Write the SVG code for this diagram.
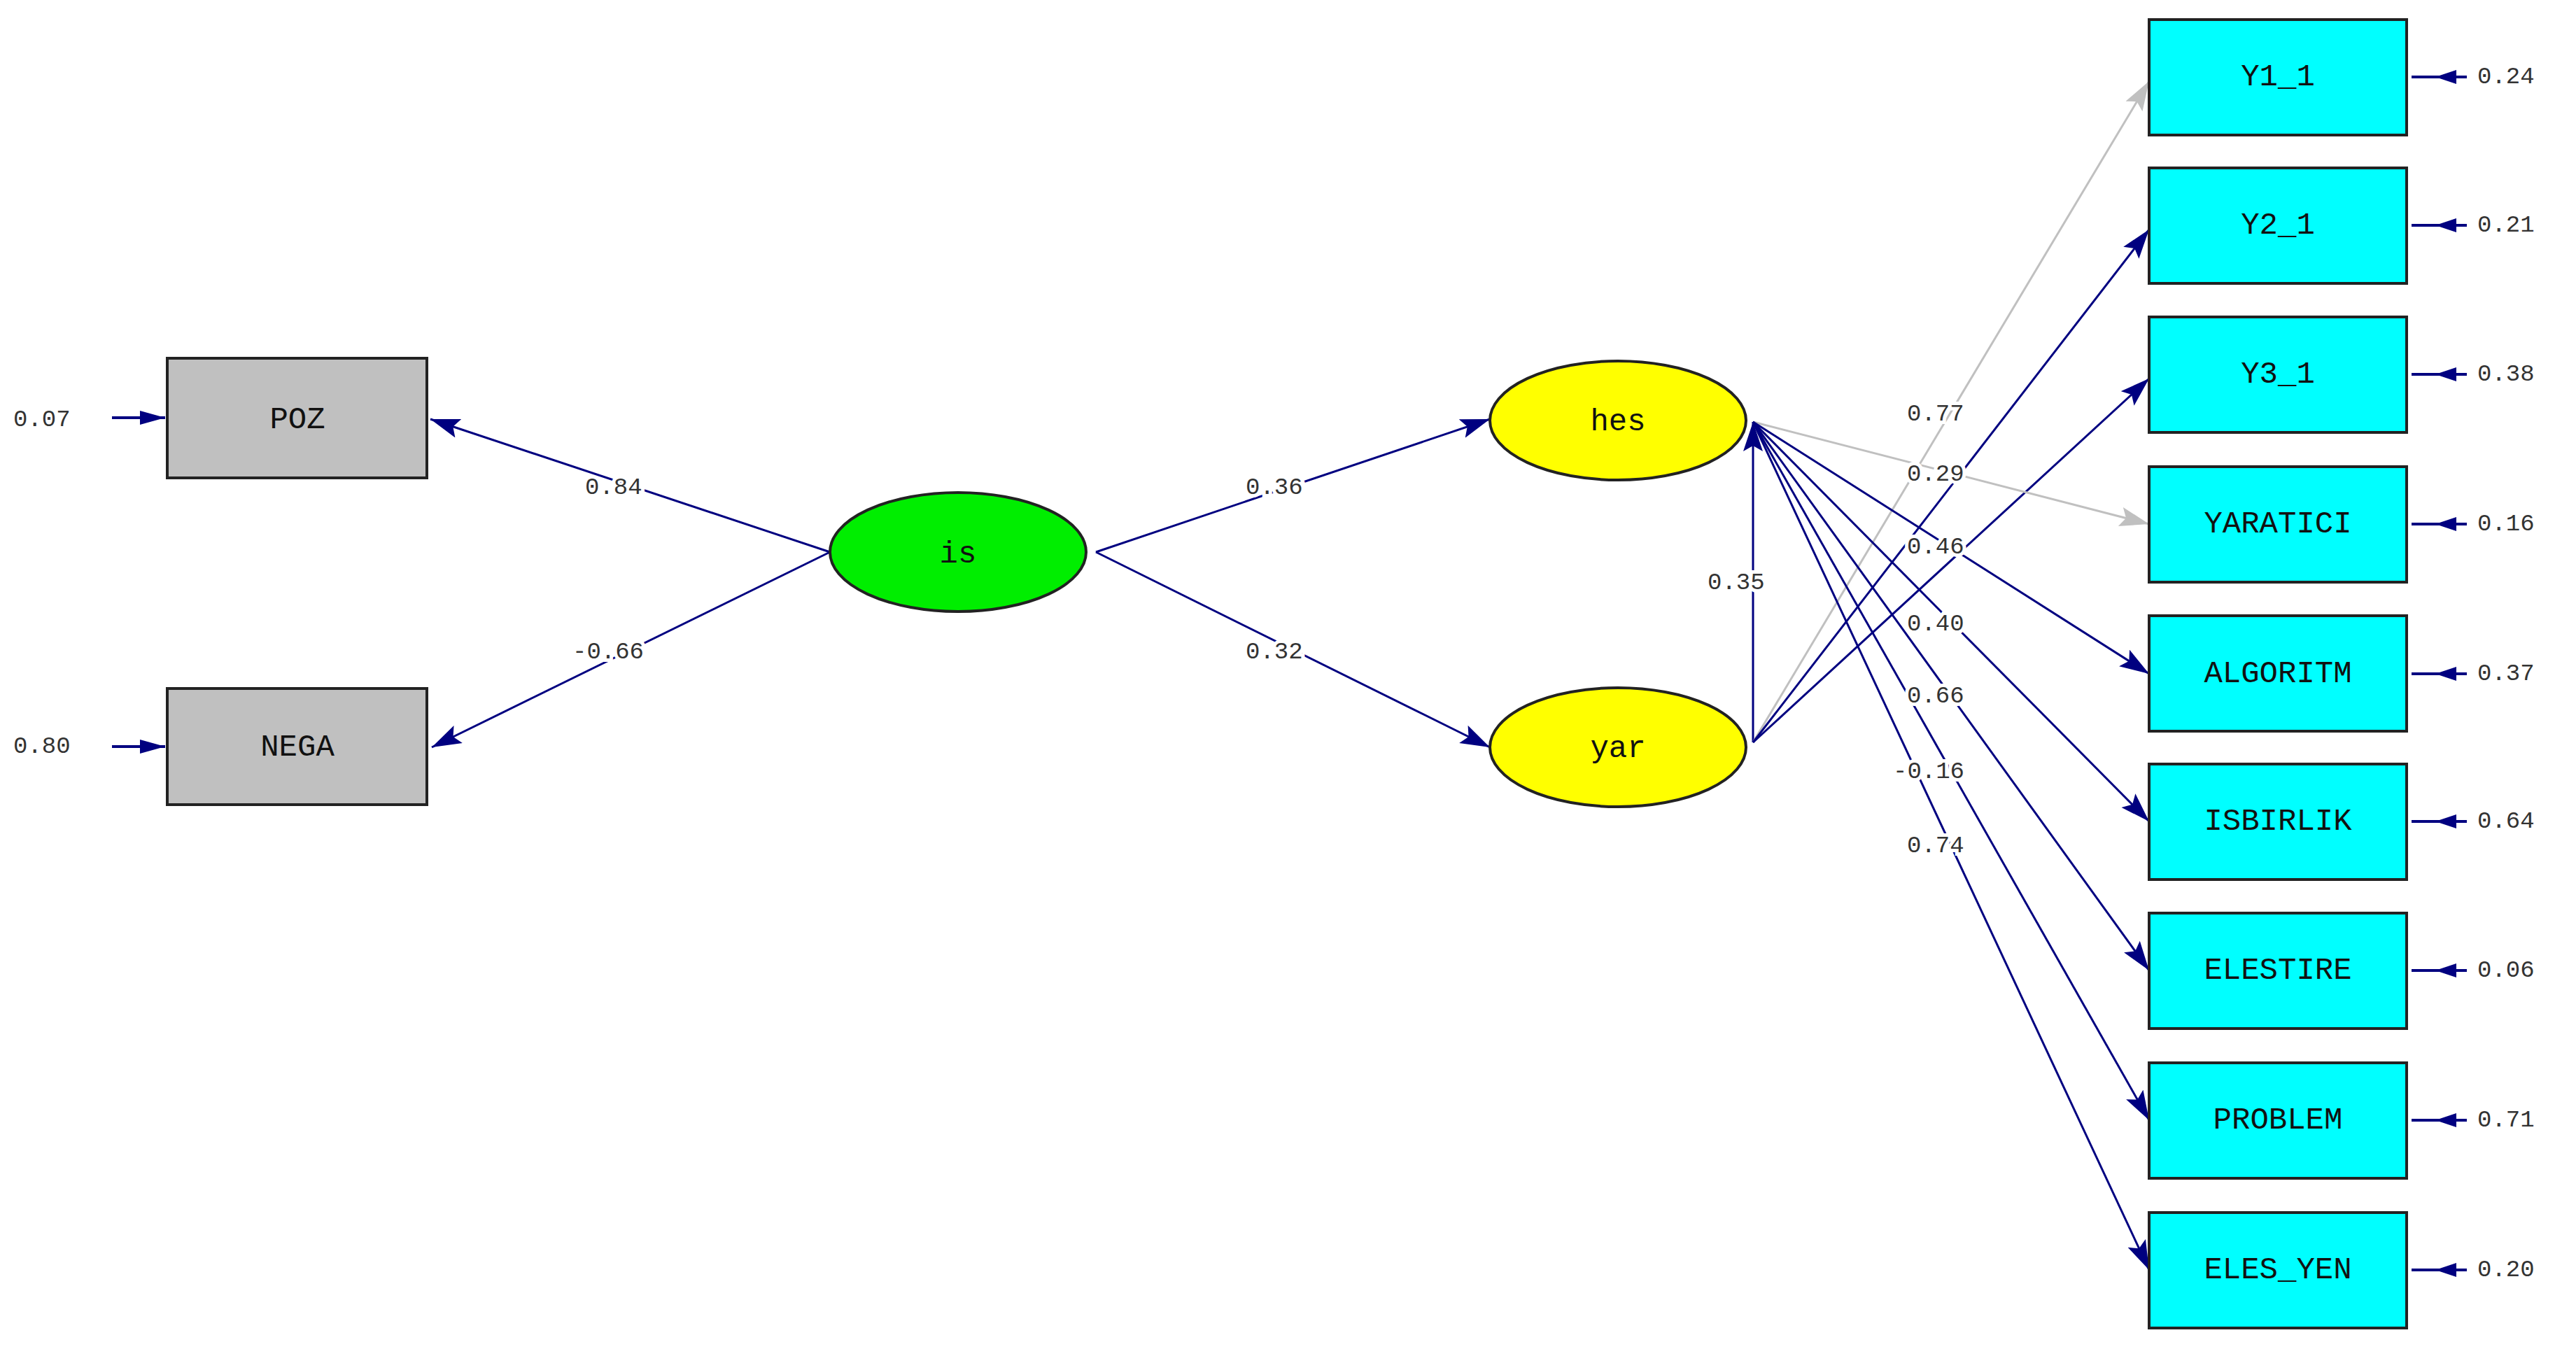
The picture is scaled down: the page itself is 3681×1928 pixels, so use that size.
<svg xmlns="http://www.w3.org/2000/svg" width="3681" height="1928" viewBox="0 0 3681 1928">
<style>
.n{stroke:#222;stroke-width:4}
.t{font-family:"Liberation Mono",monospace;font-size:44px;fill:#111;text-anchor:middle;dominant-baseline:central}
.v{font-family:"Liberation Mono",monospace;font-size:34px;fill:#333;dominant-baseline:central;paint-order:stroke;stroke:#fff;stroke-width:10px}
.c{stroke:#000080;stroke-width:3;fill:none;marker-end:url(#a)}
.g{stroke:#c0c0c0;stroke-width:3;fill:none;marker-end:url(#ag)}
.e{stroke:#000080;stroke-width:4;fill:none}
</style>
<defs>
<marker id="a" markerUnits="userSpaceOnUse" markerWidth="44" markerHeight="30" refX="42" refY="14" orient="auto"><path d="M0,0 L42,14 L0,28 L8,14 Z" fill="#000080"/></marker>
<marker id="ag" markerUnits="userSpaceOnUse" markerWidth="44" markerHeight="30" refX="42" refY="14" orient="auto"><path d="M0,0 L42,14 L0,28 L8,14 Z" fill="#c0c0c0"/></marker>
</defs>
<rect width="3681" height="1928" fill="#fff"/>
<g id="connectors">
<line class="c" x1="1186" y1="789" x2="615" y2="599"/>
<line class="c" x1="1186" y1="789" x2="617" y2="1068"/>
<line class="c" x1="1566" y1="789" x2="2129" y2="599"/>
<line class="c" x1="1566" y1="789" x2="2129" y2="1068"/>
<line class="c" x1="2505" y1="1061" x2="2505" y2="603"/>
<line class="g" x1="2505" y1="1061" x2="3071" y2="116"/>
<line class="c" x1="2505" y1="1061" x2="3071" y2="328"/>
<line class="c" x1="2505" y1="1061" x2="3071" y2="541"/>
<line class="g" x1="2505" y1="603" x2="3071" y2="749"/>
<line class="c" x1="2505" y1="603" x2="3071" y2="963"/>
<line class="c" x1="2505" y1="603" x2="3071" y2="1174"/>
<line class="c" x1="2505" y1="603" x2="3071" y2="1387"/>
<line class="c" x1="2505" y1="603" x2="3071" y2="1601"/>
<line class="c" x1="2505" y1="603" x2="3071" y2="1815"/>
<g id="errors">
<line class="e" x1="160" y1="597" x2="236" y2="597"/><path d="M200,587 L236,597 L200,607Z" fill="#000080"/>
<line class="e" x1="160" y1="1067" x2="236" y2="1067"/><path d="M200,1057 L236,1067 L200,1077Z" fill="#000080"/>
<g fill="#000080">
<line class="e" x1="3446" y1="110" x2="3525" y2="110"/><path d="M3510,100 L3480,110 L3510,120Z"/>
<line class="e" x1="3446" y1="322" x2="3525" y2="322"/><path d="M3510,312 L3480,322 L3510,332Z"/>
<line class="e" x1="3446" y1="535" x2="3525" y2="535"/><path d="M3510,525 L3480,535 L3510,545Z"/>
<line class="e" x1="3446" y1="749" x2="3525" y2="749"/><path d="M3510,739 L3480,749 L3510,759Z"/>
<line class="e" x1="3446" y1="963" x2="3525" y2="963"/><path d="M3510,953 L3480,963 L3510,973Z"/>
<line class="e" x1="3446" y1="1174" x2="3525" y2="1174"/><path d="M3510,1164 L3480,1174 L3510,1184Z"/>
<line class="e" x1="3446" y1="1387" x2="3525" y2="1387"/><path d="M3510,1377 L3480,1387 L3510,1397Z"/>
<line class="e" x1="3446" y1="1601" x2="3525" y2="1601"/><path d="M3510,1591 L3480,1601 L3510,1611Z"/>
<line class="e" x1="3446" y1="1815" x2="3525" y2="1815"/><path d="M3510,1805 L3480,1815 L3510,1825Z"/>
</g>
</g>
<g id="labels">
<text class="v" x="836" y="697">0.84</text>
<text class="v" x="818" y="932">-0.66</text>
<text class="v" x="1780" y="697">0.36</text>
<text class="v" x="1780" y="932">0.32</text>
<text class="v" x="2440" y="833">0.35</text>
<text class="v" x="2725" y="592">0.77</text>
<text class="v" x="2725" y="678">0.29</text>
<text class="v" x="2725" y="782">0.46</text>
<text class="v" x="2725" y="892">0.40</text>
<text class="v" x="2725" y="995">0.66</text>
<text class="v" x="2705" y="1103">-0.16</text>
<text class="v" x="2725" y="1209">0.74</text>
<text class="v" x="19" y="600">0.07</text>
<text class="v" x="19" y="1067">0.80</text>
<text class="v" x="3540" y="110">0.24</text>
<text class="v" x="3540" y="322">0.21</text>
<text class="v" x="3540" y="535">0.38</text>
<text class="v" x="3540" y="749">0.16</text>
<text class="v" x="3540" y="963">0.37</text>
<text class="v" x="3540" y="1174">0.64</text>
<text class="v" x="3540" y="1387">0.06</text>
<text class="v" x="3540" y="1601">0.71</text>
<text class="v" x="3540" y="1815">0.20</text>
</g>
</g>
<g id="POZ"><rect class="n" x="239" y="512" width="371" height="171" fill="#c0c0c0"/><text class="t" x="425" y="600">POZ</text></g>
<g id="NEGA"><rect class="n" x="239" y="984" width="371" height="166" fill="#c0c0c0"/><text class="t" x="425" y="1068">NEGA</text></g>
<g id="is"><ellipse class="n" cx="1369" cy="789" rx="183" ry="85" fill="#00ee00"/><text class="t" x="1369" y="792">is</text></g>
<g id="hes"><ellipse class="n" cx="2312" cy="601" rx="183" ry="85" fill="#ffff00"/><text class="t" x="2312" y="603">hes</text></g>
<g id="yar"><ellipse class="n" cx="2312" cy="1068" rx="183" ry="85" fill="#ffff00"/><text class="t" x="2312" y="1070">yar</text></g>
<g id="Y1_1"><rect class="n" x="3071" y="28" width="368" height="165" fill="#00ffff"/><text class="t" x="3255" y="110">Y1_1</text></g>
<g id="Y2_1"><rect class="n" x="3071" y="240" width="368" height="165" fill="#00ffff"/><text class="t" x="3255" y="322">Y2_1</text></g>
<g id="Y3_1"><rect class="n" x="3071" y="453" width="368" height="165" fill="#00ffff"/><text class="t" x="3255" y="535">Y3_1</text></g>
<g id="YARATICI"><rect class="n" x="3071" y="667" width="368" height="165" fill="#00ffff"/><text class="t" x="3255" y="749">YARATICI</text></g>
<g id="ALGORITM"><rect class="n" x="3071" y="880" width="368" height="165" fill="#00ffff"/><text class="t" x="3255" y="963">ALGORITM</text></g>
<g id="ISBIRLIK"><rect class="n" x="3071" y="1092" width="368" height="165" fill="#00ffff"/><text class="t" x="3255" y="1174">ISBIRLIK</text></g>
<g id="ELESTIRE"><rect class="n" x="3071" y="1305" width="368" height="165" fill="#00ffff"/><text class="t" x="3255" y="1387">ELESTIRE</text></g>
<g id="PROBLEM"><rect class="n" x="3071" y="1519" width="368" height="165" fill="#00ffff"/><text class="t" x="3255" y="1601">PROBLEM</text></g>
<g id="ELES_YEN"><rect class="n" x="3071" y="1733" width="368" height="165" fill="#00ffff"/><text class="t" x="3255" y="1815">ELES_YEN</text></g>
</svg>
